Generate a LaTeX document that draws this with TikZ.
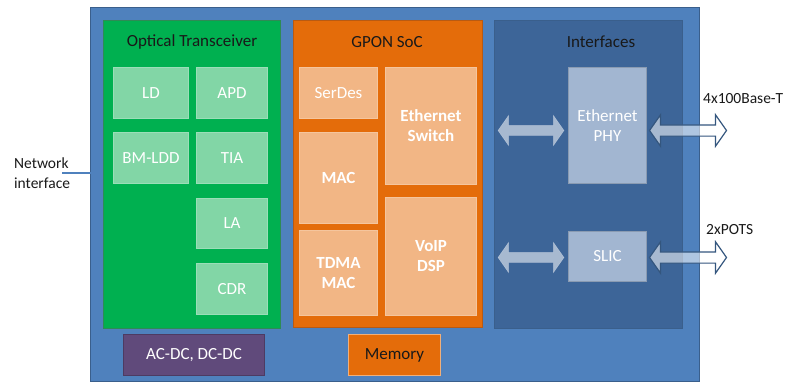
\documentclass[tikz,border=0pt]{standalone}
\usepackage{fontspec}
\setmainfont{Carlito}
\usepackage{xcolor}
\usetikzlibrary{calc}
\usetikzlibrary{shapes.arrows}
\definecolor{boardfill}{HTML}{4F81BD}
\definecolor{boardline}{HTML}{3A5F8C}
\definecolor{trxfill}{HTML}{00B050}
\definecolor{trxline}{HTML}{2E8B55}
\definecolor{trxpart}{HTML}{82D6A6}
\definecolor{socfill}{HTML}{E46C0A}
\definecolor{socline}{HTML}{B95A12}
\definecolor{socpart}{HTML}{F2B685}
\definecolor{ifcfill}{HTML}{3D6598}
\definecolor{ifcpart}{HTML}{A2B6D1}
\definecolor{psufill}{HTML}{604A7B}
\colorlet{titletext}{black!90}
\colorlet{parttext}{white}
\tikzstyle{boxbase} =[
    rectangle,
    anchor=north west,
    inner sep=0pt,
    line width=1pt
    ]
\tikzstyle{boardbox} =[boxbase, draw=boardline, fill=boardfill]
\tikzstyle{trxbox} =[boxbase, draw=trxline, fill=trxfill]
\tikzstyle{socbox} =[boxbase, draw=socline, fill=socfill]
\tikzstyle{ifcbox} =[boxbase, draw=boardline, fill=ifcfill]
\tikzstyle{partbox} =[
    boxbase,
    text=parttext,
    align=center,
    font=\fontsize{17}{20}\selectfont
    ]
\tikzstyle{trxpartbox} =[partbox, draw=trxpart!80!white, fill=trxpart]
\tikzstyle{socpartbox} =[partbox, draw=socpart!80!white, fill=socpart,
    font=\fontsize{17}{20}\selectfont\bfseries]
\tikzstyle{ifcpartbox} =[partbox, draw=ifcpart!85!black, fill=ifcpart]
\tikzstyle{boxtitle} =[
    text=titletext,
    font=\fontsize{17}{20}\selectfont
    ]
\tikzstyle{sidelabel} =[
    text=titletext,
    inner sep=0pt,
    align=left,
    font=\fontsize{15.5}{20}\selectfont
    ]
\tikzstyle{linkarrow} =[
    double arrow,
    inner sep=5pt,
    double arrow head extend=10pt,
    double arrow tip angle=110,
    minimum width=30pt,
    fill=white,
    fill opacity=0.55,
    draw=white,
    draw opacity=0.3
    ]
\tikzstyle{portarrow} =[
    linkarrow,
    draw=boardline!90!black,
    draw opacity=1,
    line width=1.2pt
    ]

\begin{document}
\begin{tikzpicture}[x=1pt,y=-1pt]
\useasboundingbox (0,0) rectangle (786,383);

% board and the three blocks
\node[boardbox, minimum width=609pt, minimum height=374pt] (board) at (90,7) {};
\node[trxbox, minimum width=177pt, minimum height=308pt] (trx) at (103,20) {};
\node[socbox, minimum width=189pt, minimum height=307pt] (soc) at (293,20) {};
\node[ifcbox, minimum width=188pt, minimum height=308pt] (ifc) at (494,20) {};

\node[boxtitle] (trxtitle) at (192,42) {Optical Transceiver};
\node[boxtitle] (soctitle) at (387,42) {GPON SoC};
\node[boxtitle] (ifctitle) at (601,42) {Interfaces};

% optical transceiver
\node[trxpartbox, minimum width=75pt, minimum height=51pt] (ld) at (113,67) {LD};
\node[trxpartbox, minimum width=71pt, minimum height=51pt] (apd) at (196,67) {APD};
\node[trxpartbox, minimum width=75pt, minimum height=51pt] (bmldd) at (113,132) {BM-LDD};
\node[trxpartbox, minimum width=71pt, minimum height=51pt] (tia) at (196,132) {TIA};
\node[trxpartbox, minimum width=71pt, minimum height=50pt] (la) at (196,198) {LA};
\node[trxpartbox, minimum width=71pt, minimum height=51pt] (cdr) at (196,263) {CDR};

% gpon soc
\node[socpartbox, minimum width=78pt, minimum height=51pt, font=\fontsize{17}{20}\selectfont] (serdes) at (299,67) {SerDes};
\node[socpartbox, minimum width=91pt, minimum height=117pt] (ethsw) at (385,67) {Ethernet\\Switch};
\node[socpartbox, minimum width=78pt, minimum height=91pt] (mac) at (299,132) {MAC};
\node[socpartbox, minimum width=78pt, minimum height=85pt] (tdma) at (299,230) {TDMA\\MAC};
\node[socpartbox, minimum width=91pt, minimum height=118pt] (voip) at (385,197) {VoIP\\DSP};

% interfaces
\node[ifcpartbox, minimum width=78pt, minimum height=116pt] (phy) at (568,67) {Ethernet\\PHY};
\node[ifcpartbox, minimum width=78pt, minimum height=50pt] (slic) at (568,231) {SLIC};

% power and memory
\node[boxbase, draw=psufill!80!black, fill=psufill, text=white,
    font=\fontsize{17}{20}\selectfont,
    minimum width=141pt, minimum height=41pt] (psu) at (123,334) {AC-DC, DC-DC};
\node[boxbase, draw=socpart!90!socfill, fill=socfill, text=titletext,
    font=\fontsize{17}{20}\selectfont,
    minimum width=92pt, minimum height=41pt] (mem) at (348,334) {Memory};

% links
\node[linkarrow, minimum height=66pt] (phylink) at ($(ifc.west |- phy.center)!.5!(phy.west)+(0,5)$) {};
\node[portarrow, minimum height=77pt] (phyport) at ($(phy.east)+(41,5)$) {};
\node[linkarrow, minimum height=66pt] (sliclink) at ($(ifc.west |- slic.center)!.5!(slic.west)+(0,1)$) {};
\node[portarrow, minimum height=77pt] (slicport) at ($(slic.east)+(41,1)$) {};

% outside labels
\node[sidelabel, anchor=west] (ethlbl) at (703,99) {4x100Base-T};
\node[sidelabel, anchor=west] (potslbl) at (706,230) {2xPOTS};
\node[sidelabel, anchor=west] (netlbl) at (14,173) {Network\\interface};
\draw[boardfill, line width=1.5pt] ([xshift=-8pt]netlbl.east) -- (netlbl.east -| trx.west);
\end{tikzpicture}
\end{document}
